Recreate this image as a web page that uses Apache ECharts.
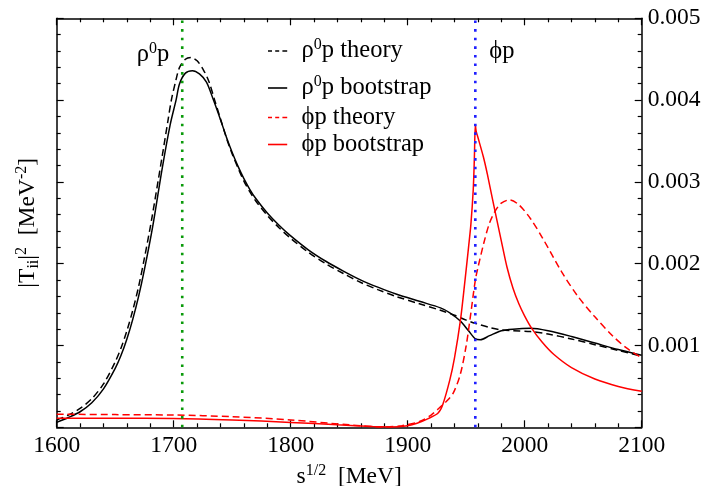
<!DOCTYPE html>
<html>
<head>
<meta charset="utf-8">
<script src="https://cdn.jsdelivr.net/npm/echarts@6/dist/echarts.min.js"></script>
<style>
html,body{margin:0;padding:0;background:#fff;}
#c{width:728px;height:486px;}
</style>
</head>
<body>
<div id="c"></div>
<script>
// ---- data ----
const xTicks = [1600, 1700, 1800, 1900, 2000, 2100];
const yTicks = [0.001, 0.002, 0.003, 0.004, 0.005];
const thresholds = [1707.3, 1957.8]; // rho0 p and phi p thresholds [MeV]

const sRhoTheory = [1600,1610,1620,1630,1640,1650,1655,1660,1665,1670,1675,1681,1690,1695,1698,1702,1705,1710,1715,1720,1725,1730,1735,1740,1745,1750,1755,1760,1765,1770,1780,1790,1800,1815,1830,1845,1860,1875,1890,1910,1928,1940,1950,1958,1970,1980,1990,2005,2020,2040,2060,2080,2100];
const rhoTheory  = [0.00009,0.00015,0.00023,0.00035,0.00053,0.0008,0.00097,0.00118,0.00143,0.00172,0.00207,0.00253,0.0033,0.00374,0.004,0.00425,0.0044,0.0045,0.00452,0.00448,0.00438,0.00423,0.004,0.00377,0.00354,0.00334,0.00317,0.00301,0.00288,0.00277,0.00259,0.00244,0.00231,0.00214,0.002,0.00188,0.00177,0.00168,0.0016,0.00151,0.00143,0.00137,0.00131,0.00127,0.00122,0.00119,0.00118,0.00117,0.00114,0.00108,0.00101,0.00094,0.00087];

const sRhoBoot = [1600,1610,1620,1630,1640,1650,1655,1660,1665,1670,1675,1682,1690,1697,1702,1705,1710,1716,1722,1728,1734,1740,1745,1750,1755,1760,1765,1770,1780,1790,1800,1815,1830,1845,1860,1875,1890,1910,1928,1936,1945,1952,1958,1962,1970,1980,1990,2005,2020,2040,2060,2080,2100];
const rhoBoot  = [0.00006,0.00012,0.00019,0.0003,0.00047,0.00072,0.00088,0.00108,0.00132,0.0016,0.00193,0.00245,0.00315,0.0037,0.004,0.0042,0.00433,0.00436,0.00432,0.00422,0.004,0.00376,0.00355,0.00336,0.00319,0.00304,0.00291,0.0028,0.00262,0.00247,0.00234,0.00217,0.00203,0.00191,0.0018,0.00171,0.00163,0.00154,0.00146,0.0014,0.0013,0.00118,0.00108,0.00107,0.00112,0.00118,0.0012,0.00121,0.00118,0.00111,0.00103,0.00095,0.00088];

const sPhiTheory = [1600,1650,1700,1750,1800,1850,1880,1895,1910,1920,1928,1934,1939,1945,1950,1954,1957.8,1960,1965,1970,1975,1980,1987,1995,2005,2015,2031.6,2045,2060,2075,2087,2100];
const phiTheory  = [0.00016,0.000155,0.00015,0.00013,0.00009,0.00003,0.000005,0.00002,0.00007,0.00015,0.00025,0.00033,0.00042,0.00065,0.001,0.0014,0.0018,0.00195,0.00225,0.0025,0.00265,0.00274,0.00278,0.00272,0.00255,0.00232,0.0019,0.00161,0.00135,0.00112,0.00097,0.00085];

const sPhiBoot = [1600,1650,1700,1750,1800,1840,1870,1885,1900,1908,1918,1926,1930,1936,1940,1945,1949,1952,1954,1956,1957,1957.8,1958.5,1960.3,1964.6,1968,1972.6,1980,1985,1990,1995,2000,2006,2015,2025,2040,2060,2080,2100];
const phiBoot  = [0.00011,0.00011,0.000108,0.00009,0.00006,0.00003,0.00001,0.000005,0.00002,0.00005,0.00011,0.000175,0.00028,0.00058,0.00085,0.0013,0.0018,0.0022,0.00248,0.0029,0.0033,0.0037,0.00362,0.00353,0.00331,0.0031,0.00278,0.00228,0.00195,0.0017,0.00151,0.00136,0.00121,0.00104,0.00089,0.00073,0.00059,0.0005,0.00044];

// ---- chart ----
const SERIF = "'Liberation Serif','Times New Roman',serif";
const chart = echarts.init(document.getElementById('c'), null, {renderer:'canvas'});
const pairs = (xs, ys) => xs.map((x, i) => [x, ys[i]]);

const mkRich = (fs, c) => ({
  m:   {fontFamily: SERIF, fontSize: fs, color: c, lineHeight: 28},
  mp:  {fontFamily: SERIF, fontSize: fs, color: c, lineHeight: 28, padding: [0,0,0,7]},
  sup: {fontFamily: SERIF, fontSize: 16, color: c, verticalAlign: 'top', lineHeight: 12},
  sub: {fontFamily: SERIF, fontSize: 16, color: c, verticalAlign: 'bottom', lineHeight: 12}
});
const richTitle = mkRich(23.5, '#000');
const richLegend = mkRich(24.5, '#000');

const names = ['rhoTheory','rhoBoot','phiTheory','phiBoot'];
const legendText = {
  rhoTheory: '{mp|ρ}{sup|0}{m|p theory}',
  rhoBoot:   '{mp|ρ}{sup|0}{m|p bootstrap}',
  phiTheory: '{mp|ϕp theory}',
  phiBoot:   '{mp|ϕp bootstrap}'
};
const legendTop = [37, 74, 105, 132];
const DASH_ICON = 'path://M0,0h5v2h-5zM9,0h5v2h-5zM18,0h6v2h-6z';
const SOLID_ICON = 'path://M0,0h24v2h-24z';
const legendIcon = [DASH_ICON, SOLID_ICON, DASH_ICON, SOLID_ICON];

const axisCommon = {
  type: 'value',
  axisLine: {show: true, onZero: false, lineStyle: {color: '#000', width: 1.5}},
  axisTick: {show: true, inside: true, length: 7, lineStyle: {color: '#000', width: 1.2}},
  minorTick: {show: true, splitNumber: 5, length: 4, lineStyle: {color: '#000', width: 1.2}},
  splitLine: {show: false},
  minorSplitLine: {show: false}
};

const option = {
  animation: false,
  backgroundColor: '#fff',
  grid: {left: 56.7, right: 86.3, top: 18.3, bottom: 58.7, containLabel: false, outerBoundsMode: 'none'},
  legend: names.map((n, i) => ({
    data: [n], left: 268, top: legendTop[i], padding: 0,
    icon: legendIcon[i], itemWidth: 24, itemHeight: 1.6, selectedMode: false,
    formatter: (name) => legendText[name],
    textStyle: {fontFamily: SERIF, fontSize: 24.5, color: '#000', rich: richLegend}
  })),
  xAxis: [
    Object.assign({}, axisCommon, {
      position: 'bottom', min: 1600, max: 2100, interval: 100,
      axisLabel: {show: true, margin: 7, fontFamily: SERIF, fontSize: 23.5, color: '#000',
        formatter: v => xTicks.includes(v) ? String(v) : ''},
      name: '{m|s}{sup|1/2}{m|  [MeV]}', nameLocation: 'middle', nameGap: 33,
      nameTextStyle: {rich: richTitle}
    }),
    Object.assign({}, axisCommon, {
      position: 'top', min: 1600, max: 2100, interval: 100,
      axisLabel: {show: false}
    })
  ],
  yAxis: [
    Object.assign({}, axisCommon, {
      position: 'left', min: 0, max: 0.005, interval: 0.001,
      axisLabel: {show: false},
      name: '{m||T}{sub|ii}{m||}{sup|2}{m|  [MeV}{sup|-2}{m|]}', nameLocation: 'middle', nameRotate: 90, nameGap: 15,
      nameTextStyle: {rich: richTitle}
    }),
    Object.assign({}, axisCommon, {
      position: 'right', min: 0, max: 0.005, interval: 0.001,
      axisLabel: {show: true, inside: false, margin: 6, fontFamily: SERIF, fontSize: 23.5, color: '#000',
        formatter: v => { const t = yTicks.find(k => Math.abs(k - v) < 1e-9); return t ? t.toFixed(3) : ''; }}
    })
  ],
  series: [
    {name: 'rhoTheory', type: 'line', data: pairs(sRhoTheory, rhoTheory), showSymbol: false, symbol: 'none',
      smooth: 0.3, lineStyle: {color: '#000', width: 1.5, type: [7, 4]}, itemStyle: {color: '#000'}},
    {name: 'rhoBoot', type: 'line', data: pairs(sRhoBoot, rhoBoot), showSymbol: false, symbol: 'none',
      smooth: 0.3, lineStyle: {color: '#000', width: 1.5}, itemStyle: {color: '#000'}},
    {name: 'phiTheory', type: 'line', data: pairs(sPhiTheory, phiTheory), showSymbol: false, symbol: 'none',
      smooth: 0.3, lineStyle: {color: '#ff0000', width: 1.5, type: [7, 4]}, itemStyle: {color: '#ff0000'}},
    {name: 'phiBoot', type: 'line', data: pairs(sPhiBoot, phiBoot), showSymbol: false, symbol: 'none',
      smooth: 0.3, lineStyle: {color: '#ff0000', width: 1.5}, itemStyle: {color: '#ff0000'}},
    {name: 'rhoThr', type: 'line', data: [[thresholds[0], 0], [thresholds[0], 0.005]], showSymbol: false, symbol: 'none',
      lineStyle: {color: '#0a9a0a', width: 2.6, type: [2.6, 6]}, z: 5},
    {name: 'phiThr', type: 'line', data: [[thresholds[1], 0], [thresholds[1], 0.005]], showSymbol: false, symbol: 'none',
      lineStyle: {color: '#2020ff', width: 2.6, type: [2.6, 6]}, z: 5}
  ]
};
chart.setOption(option);

// threshold labels positioned through the axes
const pG = chart.convertToPixel({xAxisIndex: 0, yAxisIndex: 0}, [thresholds[0], 0.0046]);
const pB = chart.convertToPixel({xAxisIndex: 0, yAxisIndex: 0}, [thresholds[1], 0.0046]);
chart.setOption({
  graphic: [
    {type: 'text', x: pG[0] - 13, y: pG[1] + 4, style: {text: '{m|ρ}{sup|0}{m|p}', rich: mkRich(24.5, '#0a9a0a'), align: 'right', verticalAlign: 'middle'}},
    {type: 'text', x: pB[0] + 14, y: pB[1] + 1, style: {text: '{m|ϕp}', rich: mkRich(24.5, '#2020ff'), align: 'left', verticalAlign: 'middle'}}
  ]
});
</script>
</body>
</html>
